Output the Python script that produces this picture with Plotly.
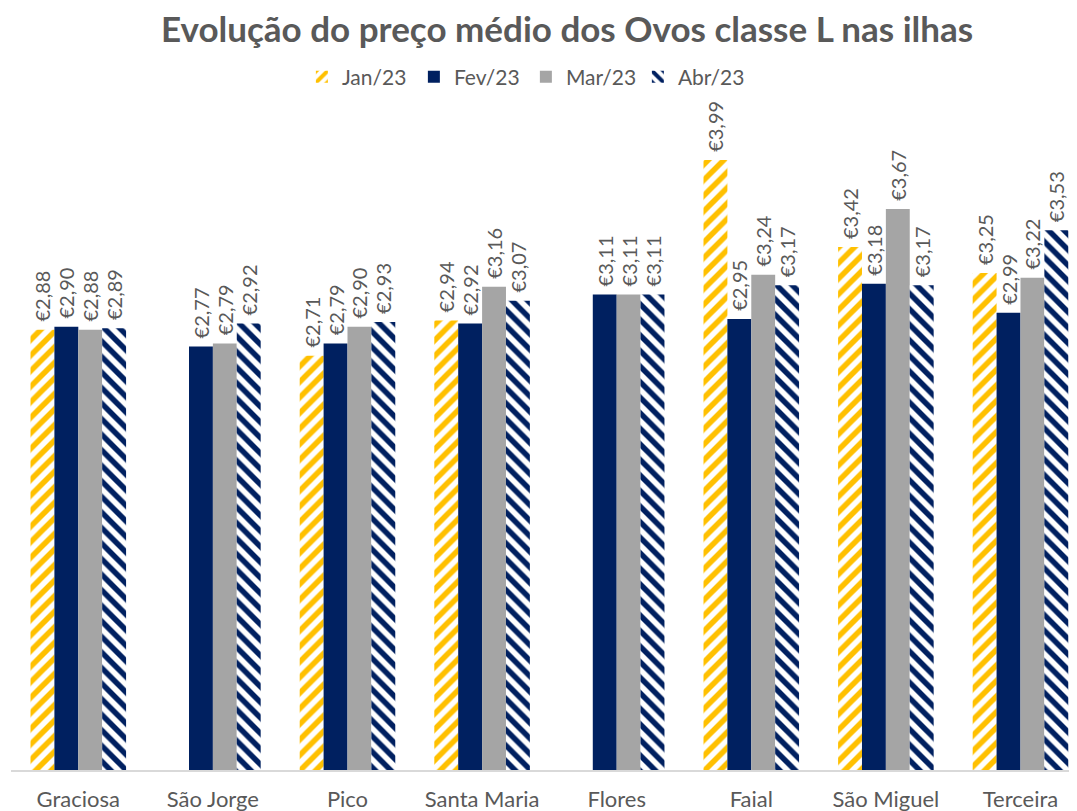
import plotly.graph_objects as go

categories = ["Graciosa", "São Jorge", "Pico", "Santa Maria", "Flores", "Faial", "São Miguel", "Terceira"]
series_names = ["Jan/23", "Fev/23", "Mar/23", "Abr/23"]
jan = [2.88, None, 2.71, 2.94, None, 3.99, 3.42, 3.25]
fev = [2.90, 2.77, 2.79, 2.92, 3.11, 2.95, 3.18, 2.99]
mar = [2.88, 2.79, 2.90, 3.16, 3.11, 3.24, 3.67, 3.22]
abr = [2.89, 2.92, 2.93, 3.07, 3.11, 3.17, 3.17, 3.53]

FONT = "Lato"
GREY = "#595959"

def marker_for(i):
    if i == 0:
        return dict(color="white", line=dict(width=0),
                    pattern=dict(shape="/", fgcolor="#FFC000", bgcolor="white", size=11,
                                 solidity=0.5, fgopacity=1))
    if i == 1:
        return dict(color="#002060", line=dict(width=0))
    if i == 2:
        return dict(color="#A5A5A5", line=dict(width=0))
    return dict(color="white", line=dict(width=0),
                pattern=dict(shape="\\", fgcolor="#002060", bgcolor="white", size=11,
                             solidity=0.5, fgopacity=1))

fig = go.Figure()
for i, (name, vals) in enumerate(zip(series_names, [jan, fev, mar, abr])):
    fig.add_trace(go.Bar(
        x=categories, y=vals, name=name, marker=marker_for(i),
        texttemplate="\u00a0€%{y:.2f}", textposition="outside", textangle=-90,
        textfont=dict(family=FONT, size=20, color=GREY), cliponaxis=False,
        constraintext="none",
    ))

fig.update_layout(
    width=1069, height=803,
    barmode="group", bargap=0.29, bargroupgap=0,
    separators=",.",
    paper_bgcolor="white", plot_bgcolor="white",
    margin=dict(l=3, r=0, t=87, b=41, autoexpand=False),
    title=dict(text="<b>Evolução do preço médio dos Ovos classe L nas ilhas</b>",
               x=0.523, xanchor="center", y=0.9726, yanchor="middle",
               font=dict(family=FONT, size=35, color=GREY)),
    legend=dict(orientation="h", x=0.483, xanchor="center", y=1.0267, yanchor="middle",
                font=dict(family=FONT, size=21, color=GREY), traceorder="normal",
                entrywidth=67),
    xaxis=dict(range=[-0.5, 7.42], showgrid=False, showline=True, linecolor="#D9D9D9", linewidth=2,
               ticks="", automargin=False, ticklabelstandoff=9,
               tickfont=dict(family=FONT, size=22, color=GREY)),
    yaxis=dict(range=[0, 4.415], visible=False, showgrid=False, automargin=False),
)

fig.write_html("out.html")
